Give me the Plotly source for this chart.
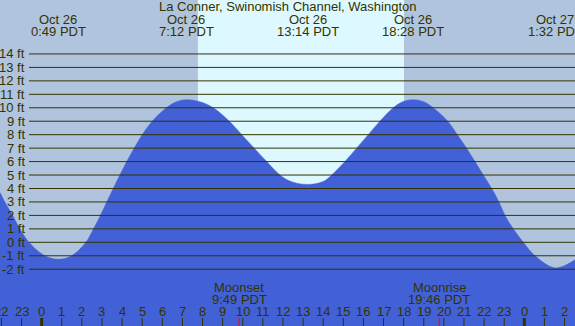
import plotly.graph_objects as go

# ---- data ----
tide_hours = [-2.07, -1.83, -1.44, -1.08, -0.63, 0.16, 0.82, 1.49, 2.2, 2.58, 2.92, 3.24,
              3.56, 3.89, 4.23, 4.6, 5.0, 5.5, 6.2, 6.7, 7.2, 7.87, 8.53, 9.33, 9.95, 10.57,
              11.19, 11.85, 12.4, 13.2, 14.0, 14.42, 15.08, 15.66, 16.24, 16.82, 17.48, 17.95,
              18.47, 19.0, 19.47, 20.19, 20.67, 21.13, 21.55, 21.96, 22.38, 22.74, 23.04,
              23.45, 23.95, 24.53, 25.55, 26.52]
tide_ft = [3.7, 3.0, 2.0, 1.0, 0.0, -1.0, -1.26, -1.0, 0.0, 1.0, 2.0, 3.0,
           4.0, 5.0, 6.0, 7.0, 8.0, 9.0, 10.0, 10.45, 10.6, 10.45, 10.0, 9.0, 8.0, 7.0,
           6.0, 5.0, 4.52, 4.3, 4.52, 5.0, 6.0, 7.0, 8.0, 9.0, 10.0, 10.45,
           10.6, 10.45, 10.0, 9.0, 8.0, 7.0, 6.0, 5.0, 4.0, 3.0, 2.0,
           1.0, 0.0, -1.0, -1.9, -1.3]

extreme_hours = [0.817, 7.2, 13.233, 18.467, 25.533]
extreme_dates = ["Oct 26", "Oct 26", "Oct 26", "Oct 26", "Oct 27"]
extreme_times = ["0:49 PDT", "7:12 PDT", "13:14 PDT", "18:28 PDT", "1:32 PDT"]

sunrise_h = 7.77
sunset_h = 18.02

moon_hours = [9.817, 19.767]
moon_names = ["Moonset", "Moonrise"]
moon_times = ["9:49 PDT", "19:46 PDT"]

y_ticks = list(range(-2, 15))
y_tick_labels = [f"{v} ft" for v in y_ticks]

hour_ticks = list(range(-2, 27))
hour_labels = [str(h % 24) for h in hour_ticks]

title = "La Conner, Swinomish Channel, Washington"

# ---- styling ----
W, H = 575, 326
X_RANGE = [-2.07, 26.52]
Y_RANGE = [-6.22, 18.01]
NIGHT = "#B0C4DE"
DAY = "#DDF8FF"
WATER = "#4261D6"
INK = "#333300"
FONT = "Liberation Sans, Arial, sans-serif"

def py(px):
    return 1 - px / H

fig = go.Figure()
fig.add_trace(go.Scatter(x=[X_RANGE[0], X_RANGE[1]], y=[Y_RANGE[0] - 5] * 2,
                         mode="lines", line=dict(width=0), hoverinfo="skip", showlegend=False))
fig.add_trace(go.Scatter(x=tide_hours, y=tide_ft, mode="lines", fill="tonexty",
                         fillcolor=WATER, line=dict(color=WATER, width=0.5, shape="spline", smoothing=1.0),
                         hoverinfo="skip", showlegend=False))

shapes = []
shapes.append(dict(type="rect", xref="x", yref="paper", x0=X_RANGE[0], x1=sunrise_h, y0=0, y1=1,
                   fillcolor=NIGHT, line=dict(width=0), layer="below"))
shapes.append(dict(type="rect", xref="x", yref="paper", x0=sunrise_h, x1=sunset_h, y0=0, y1=1,
                   fillcolor=DAY, line=dict(width=0), layer="below"))
shapes.append(dict(type="rect", xref="x", yref="paper", x0=sunset_h, x1=X_RANGE[1], y0=0, y1=1,
                   fillcolor=NIGHT, line=dict(width=0), layer="below"))

for v in y_ticks:
    shapes.append(dict(type="line", xref="paper", yref="y", x0=29 / W, x1=1, y0=v, y1=v,
                       line=dict(color=INK, width=1), layer="above"))

for h in hour_ticks:
    shapes.append(dict(type="line", xref="x", yref="paper", x0=h, x1=h, y0=0, y1=8 / H,
                       line=dict(color=INK, width=3 if h % 24 == 0 else 1), layer="above"))
for h in moon_hours:
    shapes.append(dict(type="line", xref="x", yref="paper", x0=h, x1=h, y0=0, y1=8 / H,
                       line=dict(color="#FF0000", width=1), layer="above"))

ann = []
fnt = dict(family=FONT, size=13, color=INK)
ann.append(dict(text=title, x=0.5, y=py(7), xref="paper", yref="paper", showarrow=False,
                xanchor="center", yanchor="middle", font=fnt))
for h, d, t in zip(extreme_hours, extreme_dates, extreme_times):
    ann.append(dict(text=d, x=h, y=py(19.5), xref="x", yref="paper", showarrow=False,
                    xanchor="center", yanchor="middle", font=fnt))
    ann.append(dict(text=t, x=h, y=py(31.5), xref="x", yref="paper", showarrow=False,
                    xanchor="center", yanchor="middle", font=fnt))
for v, lab in zip(y_ticks, y_tick_labels):
    ann.append(dict(text=lab, x=27 / W, y=v, xref="paper", yref="y", showarrow=False,
                    xanchor="right", yanchor="middle", font=fnt))
for h, lab in zip(hour_ticks, hour_labels):
    ann.append(dict(text=lab, x=h, y=py(311.5), xref="x", yref="paper", showarrow=False,
                    xanchor="center", yanchor="middle", font=fnt))
for h, n, t in zip(moon_hours, moon_names, moon_times):
    ann.append(dict(text=n, x=h, y=py(287), xref="x", yref="paper", showarrow=False,
                    xanchor="center", yanchor="middle", font=fnt))
    ann.append(dict(text=t, x=h, y=py(299), xref="x", yref="paper", showarrow=False,
                    xanchor="center", yanchor="middle", font=fnt))

fig.update_layout(
    width=W, height=H, margin=dict(l=0, r=0, t=0, b=0),
    paper_bgcolor=NIGHT, plot_bgcolor=NIGHT,
    xaxis=dict(range=X_RANGE, visible=False, fixedrange=True),
    yaxis=dict(range=Y_RANGE, visible=False, fixedrange=True),
    shapes=shapes, annotations=ann, showlegend=False,
)

fig.write_html("out.html", config={"displayModeBar": False},
               post_script="document.body.style.margin='0';document.body.style.overflow='hidden';")
